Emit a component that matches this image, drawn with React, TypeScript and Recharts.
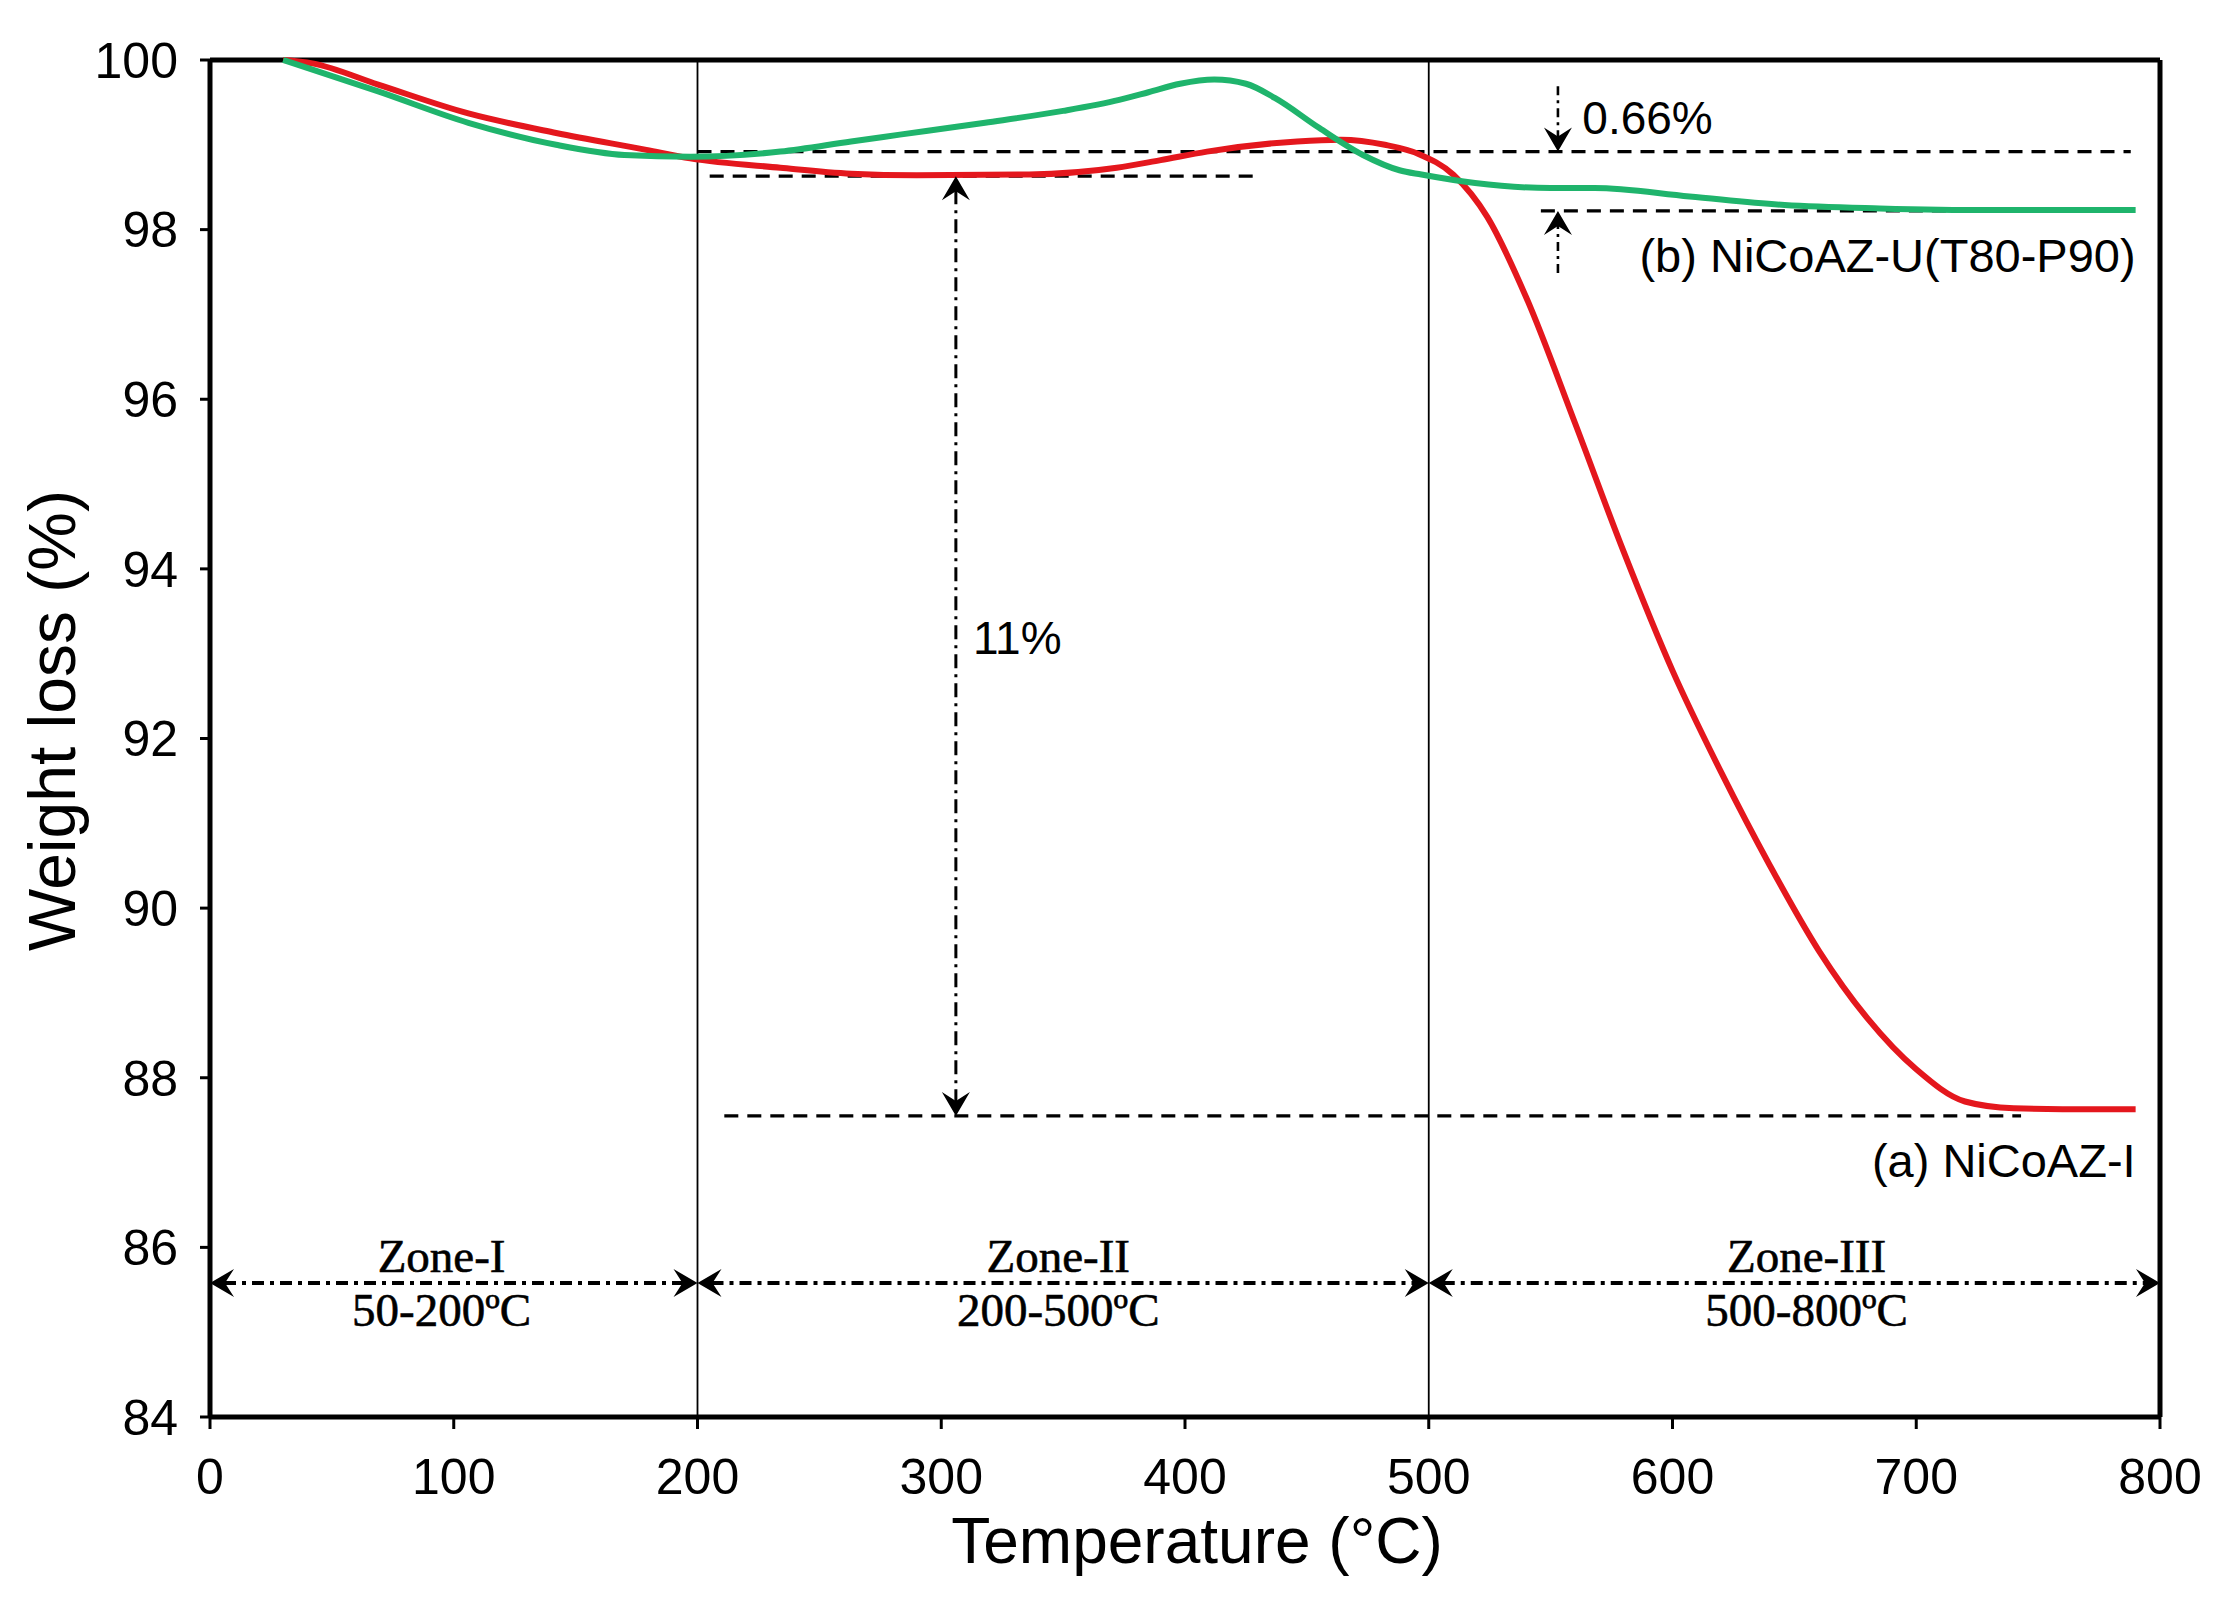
import React from 'react';
import { LineChart, Line, XAxis, YAxis, ReferenceLine, ReferenceDot } from 'recharts';

// (a) NiCoAZ-I  (red)
const tempA = [30, 42, 69, 106, 142, 179, 197, 234, 263, 290, 336, 372, 390, 409, 446, 464, 482, 496, 510, 524, 540, 560, 580, 600, 620, 640, 660, 680, 700, 720, 740, 760, 790];
const weightA = [100.0, 99.96, 99.71, 99.37, 99.14, 98.94, 98.84, 98.73, 98.66, 98.64, 98.65, 98.73, 98.82, 98.92, 99.04, 99.06, 99.0, 98.89, 98.65, 98.15, 97.2, 95.72, 94.2, 92.8, 91.6, 90.5, 89.5, 88.7, 88.1, 87.72, 87.64, 87.63, 87.63];

// (b) NiCoAZ-U(T80-P90)  (green)
const tempB = [30, 69, 106, 142, 170, 197, 234, 263, 283, 318, 350, 373, 385, 398, 412, 425, 437, 455, 473, 488, 497, 519, 550, 568, 607, 646, 685, 730, 790];
const weightB = [100.0, 99.63, 99.26, 99.0, 98.88, 98.86, 98.92, 99.04, 99.12, 99.26, 99.4, 99.53, 99.62, 99.72, 99.77, 99.72, 99.55, 99.2, 98.88, 98.7, 98.65, 98.55, 98.49, 98.49, 98.39, 98.29, 98.25, 98.23, 98.23];

const xTicks = [0, 100, 200, 300, 400, 500, 600, 700, 800];
const yTicks = [84, 86, 88, 90, 92, 94, 96, 98, 100];

const zoneBounds = [0, 200, 500, 800];
const zoneNames = ['Zone-I', 'Zone-II', 'Zone-III'];
const zoneRanges = ['50-200ºC', '200-500ºC', '500-800ºC'];
const zoneLabelT = [95, 348, 655];
const zoneArrowW = 85.58;
const zoneNameW = 85.9;
const zoneRangeW = 85.26;

// annotation levels
const levelB = 98.92; // upper dashed (b start)
const levelA1 = 98.63; // red plateau
const levelB2 = 98.22; // b final
const levelA2 = 87.55; // a final

const dataA = tempA.map((t, i) => ({ t, w: weightA[i] }));
const dataB = tempB.map((t, i) => ({ t, w: weightB[i] }));

const SANS = 'Liberation Sans, Arial, Helvetica, sans-serif';
const SERIF = 'Liberation Serif, Times New Roman, serif';
const RED = '#e4171d';
const GREEN = '#1fb46c';

function head(x: number, y: number, dx: number, dy: number) {
  const L = 24, W = 14, N = 15;
  const px = -dy, py = dx;
  const bx = x - dx * L, by = y - dy * L;
  const nx = x - dx * N, ny = y - dy * N;
  return `M${x},${y} L${bx + px * W},${by + py * W} L${nx},${ny} L${bx - px * W},${by - py * W} Z`;
}

const arrowShape = (startHead: boolean, endHead: boolean, dash = '12 6 3 6', sw = 3) => (p: any) => {
  const { x1, y1, x2, y2 } = p;
  const len = Math.hypot(x2 - x1, y2 - y1) || 1;
  const dx = (x2 - x1) / len, dy = (y2 - y1) / len;
  const s = startHead ? 14 : 0, e = endHead ? 14 : 0;
  return (
    <g>
      <line x1={x1 + dx * s} y1={y1 + dy * s} x2={x2 - dx * e} y2={y2 - dy * e} stroke="#000" strokeWidth={sw} strokeDasharray={dash} />
      {startHead && <path d={head(x1, y1, -dx, -dy)} fill="#000" />}
      {endHead && <path d={head(x2, y2, dx, dy)} fill="#000" />}
    </g>
  );
};

const textShape = (txt: string, opts: any) => (p: any) => (
  <text x={p.cx} y={p.cy} dominantBaseline="central" fill="#000" {...opts}>{txt}</text>
);

export default function App() {
  return (
    <div style={{ position: 'absolute', left: 0, top: 0, width: 2226, height: 1605, background: '#fff' }}>
      <LineChart width={2226} height={1605} margin={{ top: 60, right: 66, bottom: 88, left: 90 }}>
        <XAxis
          dataKey="t"
          type="number"
          domain={[0, 800]}
          ticks={xTicks}
          interval={0}
          height={100}
          tickSize={12}
          tickMargin={29}
          axisLine={{ stroke: '#000', strokeWidth: 5 }}
          tickLine={{ stroke: '#000', strokeWidth: 3 }}
          tick={{ fill: '#000', fontSize: 50, fontFamily: SANS }}
          label={({ viewBox }: any) => (
            <text x={viewBox.x + viewBox.width / 2 + 12} y={1563} textAnchor="middle" fontSize={64} fontFamily={SANS} fill="#000">
              Temperature (°C)
            </text>
          )}
        />
        <YAxis
          type="number"
          domain={[84, 100]}
          ticks={yTicks}
          interval={0}
          width={120}
          tickSize={10}
          tickMargin={22}
          axisLine={{ stroke: '#000', strokeWidth: 5 }}
          tickLine={{ stroke: '#000', strokeWidth: 3 }}
          tick={{ fill: '#000', fontSize: 50, fontFamily: SANS }}
          label={({ viewBox }: any) => {
            const cx = viewBox.x - 38;
            const cy = viewBox.y + viewBox.height / 2 - 18;
            return (
              <text x={cx} y={cy} transform={`rotate(-90 ${cx} ${cy})`} textAnchor="middle" dominantBaseline="central" fontSize={66} fontFamily={SANS} fill="#000">
                Weight loss (%)
              </text>
            );
          }}
        />

        {/* frame */}
        <ReferenceLine y={100} stroke="#000" strokeWidth={5} />
        <ReferenceLine x={800} stroke="#000" strokeWidth={5} />

        {/* zone dividers */}
        <ReferenceLine x={200} stroke="#000" strokeWidth={1.8} />
        <ReferenceLine x={500} stroke="#000" strokeWidth={1.8} />

        {/* dashed guide lines */}
        <ReferenceLine segment={[{ x: 200, y: levelB }, { x: 788, y: levelB }]} stroke="#000" strokeWidth={3.2} strokeDasharray="14 9" />
        <ReferenceLine segment={[{ x: 205, y: levelA1 }, { x: 428, y: levelA1 }]} stroke="#000" strokeWidth={3.2} strokeDasharray="14 9" />
        <ReferenceLine segment={[{ x: 546, y: levelB2 }, { x: 790, y: levelB2 }]} stroke="#000" strokeWidth={3.2} strokeDasharray="14 9" />
        <ReferenceLine segment={[{ x: 211, y: levelA2 }, { x: 743, y: levelA2 }]} stroke="#000" strokeWidth={3.2} strokeDasharray="14 9" />

        <Line data={dataA} dataKey="w" type="monotone" stroke={RED} strokeWidth={6} dot={false} isAnimationActive={false} />
        <Line data={dataB} dataKey="w" type="monotone" stroke={GREEN} strokeWidth={6} dot={false} isAnimationActive={false} />

        {/* 11% arrow */}
        <ReferenceLine segment={[{ x: 306, y: levelA1 }, { x: 306, y: levelA2 }]} shape={arrowShape(true, true, '14 6 3 6', 3)} />
        {/* 0.66% arrows */}
        <ReferenceLine segment={[{ x: 553, y: 99.69 }, { x: 553, y: levelB }]} shape={arrowShape(false, true, '9 5 3 5', 2.6)} />
        <ReferenceLine segment={[{ x: 553, y: 97.49 }, { x: 553, y: levelB2 }]} shape={arrowShape(false, true, '9 5 3 5', 2.6)} />

        {/* zone arrows */}
        {zoneNames.map((z, i) => (
          <ReferenceLine key={'za' + z} segment={[{ x: zoneBounds[i], y: zoneArrowW }, { x: zoneBounds[i + 1], y: zoneArrowW }]} shape={arrowShape(true, true, '12 6 4 6', 4)} />
        ))}
        {zoneNames.map((z, i) => (
          <ReferenceDot key={'zn' + z} x={zoneLabelT[i]} y={zoneNameW} r={0} ifOverflow="visible" shape={textShape(z, { textAnchor: 'middle', fontSize: 47, fontFamily: SERIF, stroke: '#000', strokeWidth: 0.6 })} />
        ))}
        {zoneRanges.map((z, i) => (
          <ReferenceDot key={'zr' + z} x={zoneLabelT[i]} y={zoneRangeW} r={0} ifOverflow="visible" shape={textShape(z, { textAnchor: 'middle', fontSize: 47, fontFamily: SERIF, stroke: '#000', strokeWidth: 0.6 })} />
        ))}

        {/* text annotations */}
        <ReferenceDot x={313} y={93.19} r={0} shape={textShape('11%', { textAnchor: 'start', fontSize: 46, fontFamily: SANS })} />
        <ReferenceDot x={563} y={99.32} r={0} shape={textShape('0.66%', { textAnchor: 'start', fontSize: 46, fontFamily: SANS })} />
        <ReferenceDot x={790} y={97.69} r={0} shape={textShape('(b) NiCoAZ-U(T80-P90)', { textAnchor: 'end', fontSize: 47, fontFamily: SANS })} />
        <ReferenceDot x={790} y={87.03} r={0} shape={textShape('(a) NiCoAZ-I', { textAnchor: 'end', fontSize: 47, fontFamily: SANS })} />
      </LineChart>
    </div>
  );
}
